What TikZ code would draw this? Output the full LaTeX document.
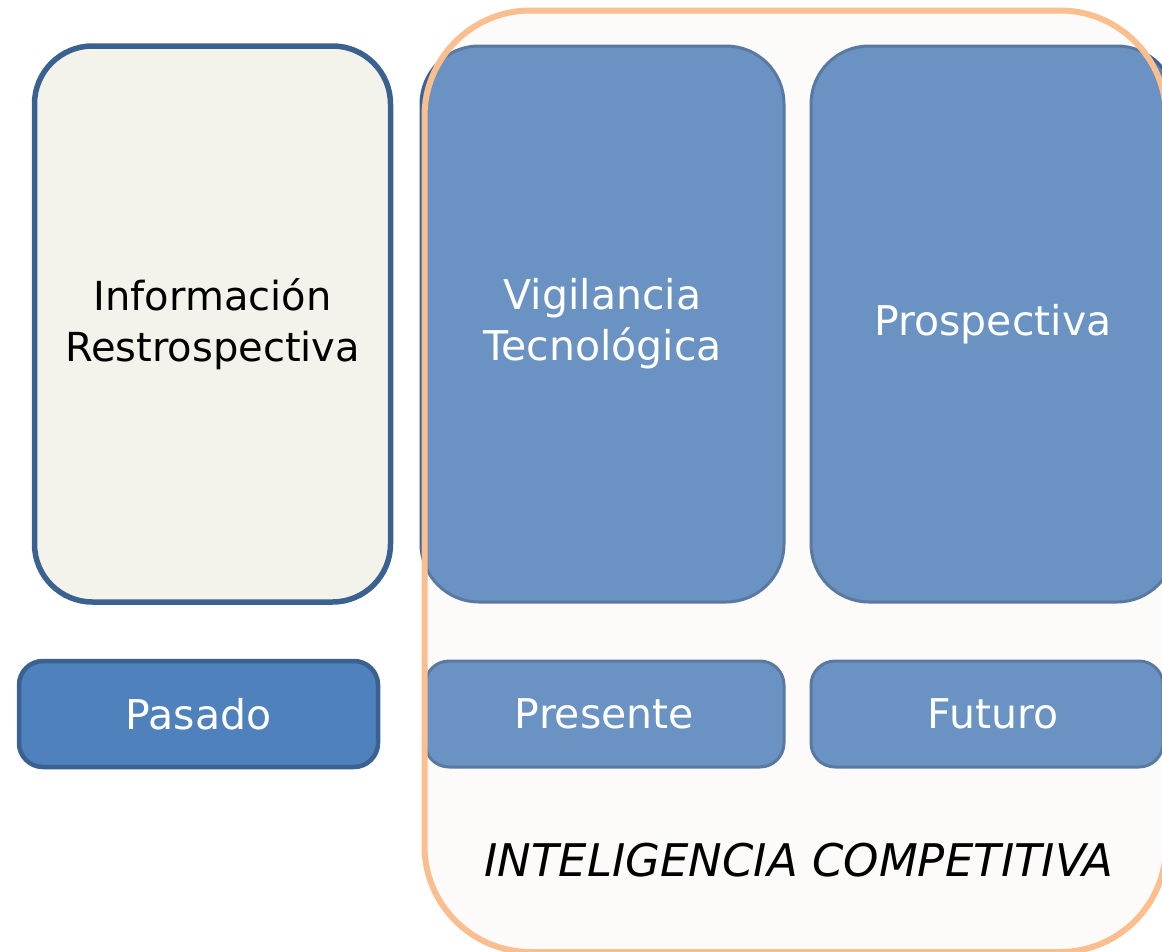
\documentclass[tikz,border=0pt]{standalone}
\usepackage{fontspec}
\setmainfont{DejaVu Sans}
\usetikzlibrary{positioning}

\definecolor{boxblue}{HTML}{4F81BD}
\definecolor{edgeblue}{HTML}{3B6494}
\definecolor{infofill}{HTML}{F3F3EC}
\definecolor{infoedge}{HTML}{3A6190}
\definecolor{icorange}{HTML}{FBBE8E}
\definecolor{icfill}{HTML}{F5E6E3}

\tikzset{
  bigbox/.style={rounded corners=58pt, minimum height=556pt, align=center,
    font=\fontsize{41}{51}\selectfont},
  timebox/.style={rounded corners=24pt, minimum height=106pt,
    font=\fontsize{41}{48}\selectfont},
  bluebox/.style={fill=boxblue, draw=edgeblue, line width=3pt, text=white},
}

\begin{document}
\begin{tikzpicture}[x=1pt,y=-1pt]
            \clip (0,0) rectangle (1162,951);

            % left column
            \node (info) [bigbox, minimum width=356pt, fill=infofill, draw=infoedge,
                line width=5.5pt, font=\fontsize{40}{51}\selectfont] at (212.5,324) {Información\\Restrospectiva};
            \node (pasado) [timebox, bluebox, minimum width=359pt, draw=infoedge,
                line width=4.5pt] at (198.5,714) {Pasado};

            % boxes under the competitive intelligence frame
            \node (vigilancia) [bigbox, bluebox, minimum width=363pt] at (602.5,324) {};
            \node (prospectiva) [bigbox, bluebox, minimum width=364pt] at (993,324) {};
            \node (presente) [timebox, bluebox, minimum width=359pt] at (604.5,714) {};
            \node (futuro) [timebox, bluebox, minimum width=352pt] at (987,714) {};

            \draw[icorange, line width=6pt, fill=icfill, fill opacity=0.17, rounded corners=106pt]
                (424.5,10.5) rectangle (1166,952);

            \node[white, align=center, font=\fontsize{41}{51}\selectfont] at (vigilancia) {Vigilancia\\Tecnológica};
            \node[white, font=\fontsize{41}{51}\selectfont] at (prospectiva) {Prospectiva};
            \node[white, font=\fontsize{41}{48}\selectfont] at (presente) {Presente};
            \node[white, font=\fontsize{41}{48}\selectfont] at (993,714) {Futuro};

            \node (ic) [font=\fontsize{45}{54}\selectfont\itshape] at (799,860) {INTELIGENCIA COMPETITIVA};
        \end{tikzpicture}
\end{document}
